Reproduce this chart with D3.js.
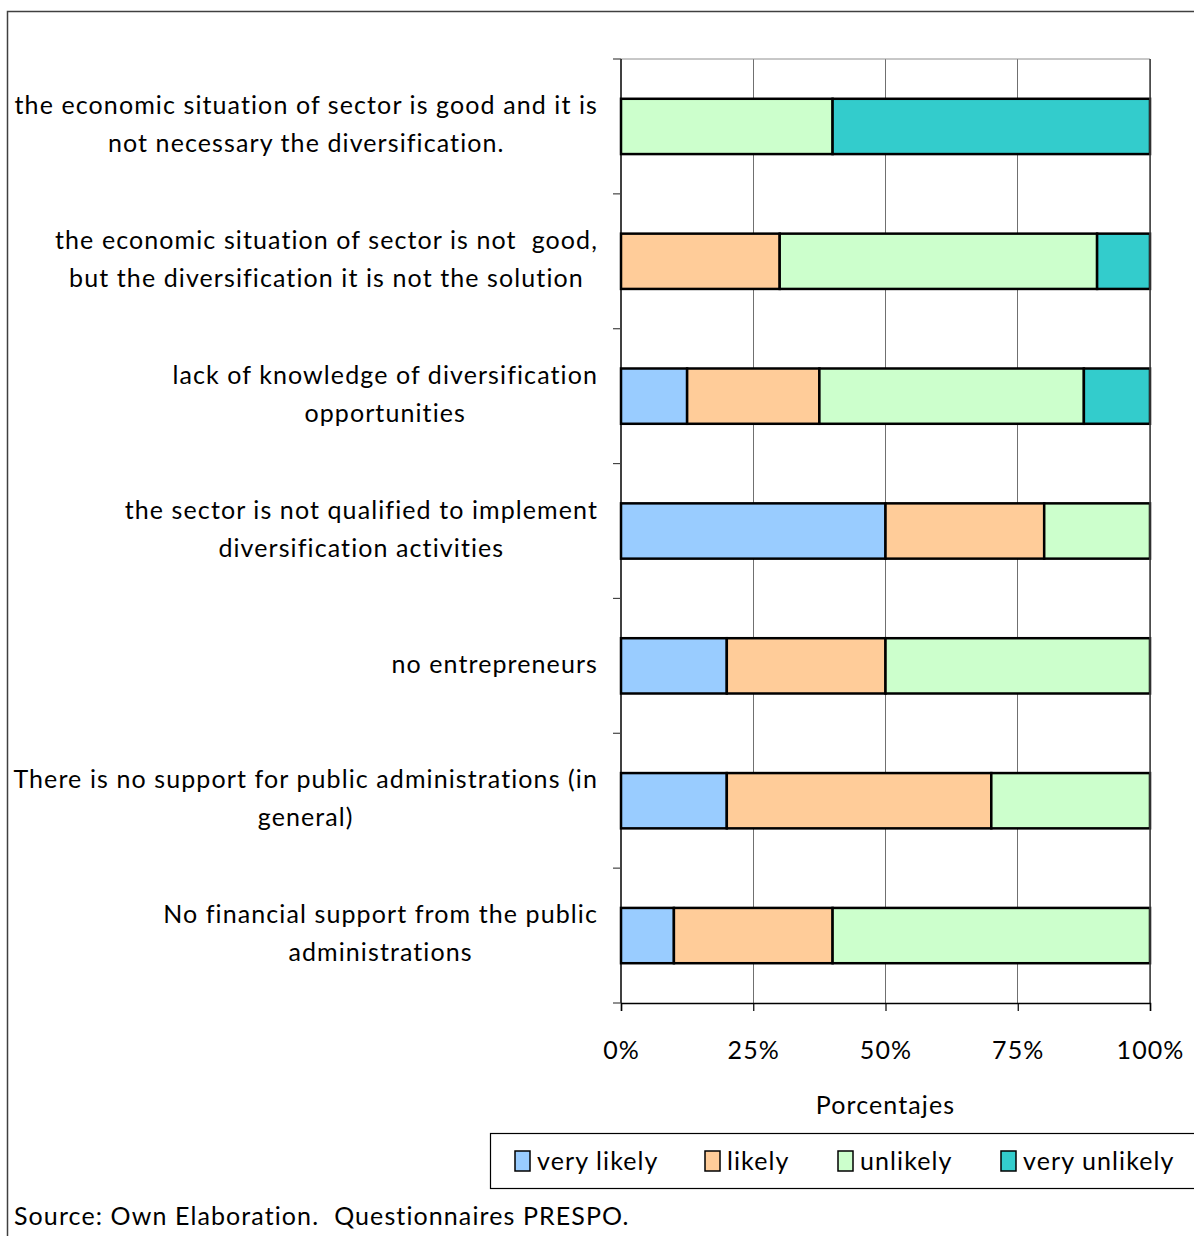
<!DOCTYPE html>
<html><head><meta charset="utf-8">
<script src="https://cdn.jsdelivr.net/npm/d3@7"></script>
<style>body{margin:0;background:#fff}svg{display:block}text{font-family:Lato,"Open Sans",sans-serif;fill:#000;letter-spacing:1.1px;white-space:pre}</style>
</head><body>
<svg id="c" width="1194" height="1236"></svg>
<script>
const categories = [
  ["the economic situation of sector is good and it is", "not necessary the diversification."],
  ["the economic situation of sector is not  good,", "but the diversification it is not the solution"],
  ["lack of knowledge of diversification", "opportunities"],
  ["the sector is not qualified to implement", "diversification activities"],
  ["no entrepreneurs"],
  ["There is no support for public administrations (in", "general)"],
  ["No financial support from the public", "administrations"]
];
const seriesNames = ["very likely", "likely", "unlikely", "very unlikely"];
const veryLikely   = [0, 0, 12.5, 50, 20, 20, 10];
const likely       = [0, 30, 25, 30, 30, 50, 30];
const unlikely     = [40, 60, 50, 20, 50, 30, 60];
const veryUnlikely = [60, 10, 12.5, 0, 0, 0, 0];
const tickValues = [0, 25, 50, 75, 100];
const colors = ["#99CCFF", "#FFCC99", "#CCFFCC", "#33CCCC"];

const svg = d3.select("#c");
const W = 1194, H = 1236;
const margin = {left: 621, right: 44, top: 59, bottom: 233};
const pw = W - margin.left - margin.right, ph = H - margin.top - margin.bottom;

// outer frame (right/bottom are outside the picture)
svg.append("path").attr("d", `M7.5,${H+5} V11.5 H${W+5}`).attr("fill","none").attr("stroke","#404040").attr("stroke-width",1.5);

const g = svg.append("g").attr("transform", `translate(${margin.left},${margin.top})`);
const idx = d3.range(categories.length);
const x = d3.scaleLinear().domain([0,100]).range([0,pw]);
const y = d3.scaleBand().domain(idx).range([0,ph]).paddingInner(0.59).paddingOuter(0.295);
const step = y.step();

// gridlines
g.append("g").selectAll("line").data(tickValues.slice(1)).join("line")
  .attr("x1", d=>x(d)).attr("x2", d=>x(d)).attr("y1",0).attr("y2",ph)
  .attr("stroke","#707070").attr("stroke-width",1).attr("shape-rendering","crispEdges");
// plot top border
g.append("line").attr("x1",0).attr("x2",pw).attr("y1",0).attr("y2",0).attr("stroke","#909090").attr("stroke-width",1);

// stacked data
const rows = idx.map(i => [veryLikely[i], likely[i], unlikely[i], veryUnlikely[i]]);
const stackData = idx.map(i => { const o = {i}; seriesNames.forEach((s,k)=>o[s]=rows[i][k]); return o; });
const stack = d3.stack().keys(seriesNames)(stackData);

stack.forEach((layer, k) => {
  g.append("g").selectAll("rect").data(layer.filter(d => d[1]-d[0] > 0)).join("rect")
    .attr("x", d=>x(d[0])).attr("width", d=>x(d[1])-x(d[0]))
    .attr("y", d=>y(d.data.i)).attr("height", y.bandwidth())
    .attr("fill", colors[k]).attr("stroke","#000").attr("stroke-width",2.5);
});

// right border of plot
g.append("line").attr("x1",pw).attr("x2",pw).attr("y1",0).attr("y2",ph).attr("stroke","#404040").attr("stroke-width",1.5);

// x axis
const xa = g.append("g").attr("transform",`translate(0,${ph})`)
  .call(d3.axisBottom(x).tickValues(tickValues).tickSize(8).tickFormat(d=>d+"%"));
xa.select(".domain").attr("stroke","#000").attr("stroke-width",1.5);
xa.selectAll(".tick line").attr("stroke","#000").attr("stroke-width",1.2);
xa.selectAll(".tick text").attr("font-size",25).attr("dy",0).attr("y",56).style("font-family","Lato,sans-serif");

// y axis: line + tick marks at band boundaries
const bounds = d3.range(categories.length+1).map(i=>i*step);
g.append("line").attr("x1",0).attr("x2",0).attr("y1",0).attr("y2",ph).attr("stroke","#000").attr("stroke-width",1.5);
g.append("g").selectAll("line").data(bounds).join("line")
  .attr("x1",-8).attr("x2",0).attr("y1",d=>d).attr("y2",d=>d).attr("stroke","#444").attr("stroke-width",1.2);

// category labels: centered blocks right-aligned at x=598
const labelRight = 598, fs = 25, lh = 38;
idx.forEach(i => {
  const lines = categories[i];
  const cy = margin.top + y(i) + y.bandwidth()/2 - 2;
  const grp = svg.append("g");
  const texts = lines.map((t,j) => grp.append("text").attr("font-size",fs).attr("text-anchor","middle")
      .attr("y", cy + (j - (lines.length-1)/2)*lh).attr("dy","0.35em").text(t));
  const maxW = d3.max(texts, t => t.node().getComputedTextLength());
  texts.forEach(t => t.attr("x", labelRight - maxW/2));
});

// axis title
svg.append("text").attr("x", margin.left + pw/2).attr("y",1105).attr("dy","0.35em")
  .attr("text-anchor","middle").attr("font-size",25).text("Porcentajes");

// legend
const lg = svg.append("g");
lg.append("rect").attr("x",490.5).attr("y",1133.5).attr("width",W).attr("height",55)
  .attr("fill","#fff").attr("stroke","#000").attr("stroke-width",1.2);
const legX = [515, 705, 838, 1001];
seriesNames.forEach((s,k) => {
  lg.append("rect").attr("x",legX[k]).attr("y",1151).attr("width",15).attr("height",20)
    .attr("fill",colors[k]).attr("stroke","#000").attr("stroke-width",1.5);
  lg.append("text").attr("x",legX[k]+22).attr("y",1161).attr("dy","0.35em").attr("font-size",25).text(s);
});

// source
svg.append("text").attr("x",14).attr("y",1216).attr("dy","0.35em").attr("font-size",25)
  .text("Source: Own Elaboration.  Questionnaires PRESPO.");
</script>
</body></html>
